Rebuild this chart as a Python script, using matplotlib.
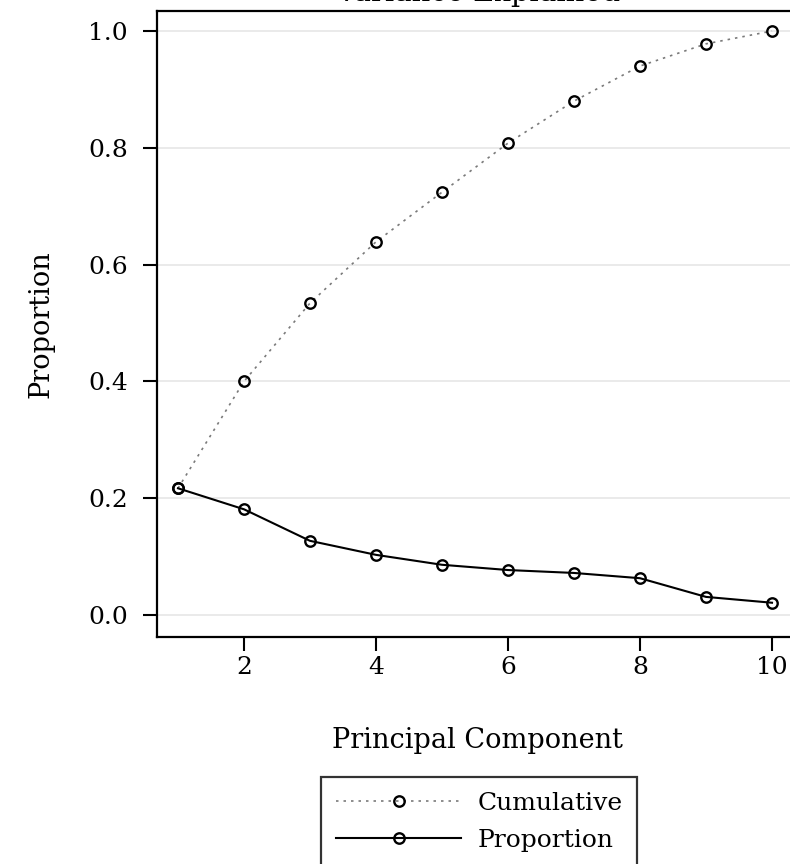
import matplotlib
matplotlib.use("Agg")
import matplotlib.pyplot as plt
import numpy as np

# Variance explained by each principal component
components = [1, 2, 3, 4, 5, 6, 7, 8, 9, 10]
proportion = [0.217, 0.181, 0.127, 0.103, 0.086, 0.077, 0.072, 0.063, 0.031, 0.021]
cumulative = [0.217, 0.400, 0.534, 0.639, 0.724, 0.808, 0.880, 0.940, 0.978, 1.000]
y_ticks = [0.0, 0.2, 0.4, 0.6, 0.8, 1.0]
x_ticks = [2, 4, 6, 8, 10]

plt.rcParams['font.family'] = 'DejaVu Serif'

fig = plt.figure(figsize=(7.9, 8.64), dpi=100)
ax = fig.add_axes([157/790, 1 - 637/864, 640/790, 626/864])

marker_style = dict(marker='o', markersize=7.5, markerfacecolor='none',
                    markeredgecolor='black', markeredgewidth=1.7)

ax.plot(components, cumulative, color='#7a7a7a', linewidth=1.2,
        linestyle=(0, (1.5, 3)), label='Cumulative', zorder=3, **marker_style)
ax.plot(components, proportion, color='black', linewidth=1.5,
        label='Proportion', zorder=3, **marker_style)

ax.set_xlim(1 - 21/66, 1 - 21/66 + 640/66)
ax.set_ylim(-22/584, 1 + 20/584)
ax.set_xticks(x_ticks)
ax.set_yticks(y_ticks)
ax.set_yticklabels([f'{v:.1f}' for v in y_ticks])
ax.tick_params(axis='both', direction='out', length=10, width=1.5, labelsize=18)
ax.tick_params(axis='x', pad=4)
ax.tick_params(axis='y', pad=11)
ax.grid(axis='y', color='#e6e6e6', linewidth=1.2)
ax.set_axisbelow(True)
for side in ax.spines.values():
    side.set_linewidth(1.6)

ax.set_xlabel('Principal Component', fontsize=19.5, labelpad=34)
ax.set_ylabel('Proportion', fontsize=19.5, labelpad=24)

fig.text(478/790, 1 - 1/864, 'Variance Explained', ha='center',
         va='baseline', fontsize=21)

leg = fig.legend(loc='upper left', bbox_to_anchor=(321/790, 1 - 777/864),
                 frameon=True, fancybox=False, fontsize=18, handlelength=5.0,
                 borderpad=0.6, labelspacing=0.55, handletextpad=0.65,
                 borderaxespad=0)
leg.get_frame().set_edgecolor('black')
leg.get_frame().set_linewidth(1.6)

fig.savefig('out.png', dpi=100)
